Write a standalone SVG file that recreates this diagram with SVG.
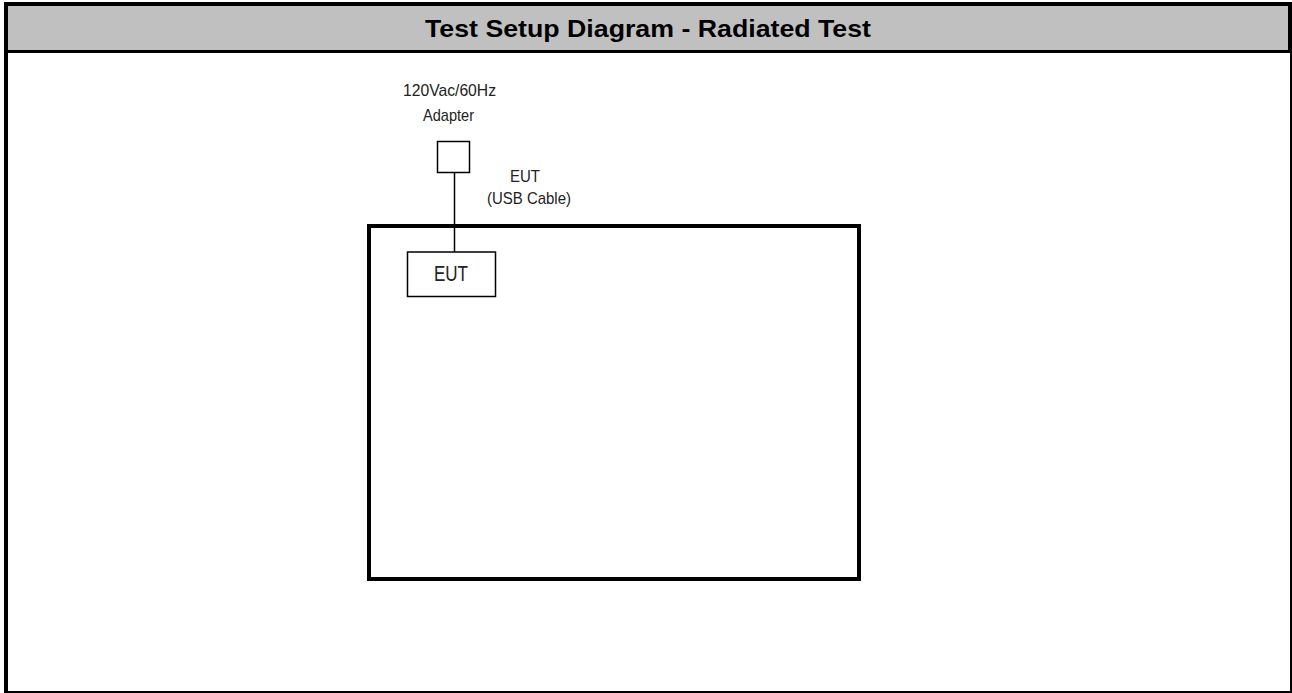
<svg xmlns="http://www.w3.org/2000/svg" width="1292" height="693" viewBox="0 0 1292 693">
<style>
.lbl{font-family:"Liberation Sans",Arial,sans-serif;font-size:17px;fill:#222}
.title{font-family:"Liberation Sans",Arial,sans-serif;font-size:24px;font-weight:bold;fill:#000}
.thin{fill:#fff;stroke:#000;stroke-width:1.5}
</style>
<rect x="0" y="0" width="1292" height="693" fill="#fff"/>
<g id="frame">
<rect x="8" y="6" width="1280" height="44" fill="#C0C0C0"/>
<rect x="4" y="2" width="1288" height="4" fill="#000"/>
<rect x="4" y="50" width="1288" height="3" fill="#000"/>
<rect x="4" y="2" width="4" height="691" fill="#000"/>
<rect x="1288" y="2" width="4" height="51" fill="#000"/>
<rect x="1290" y="53" width="2" height="640" fill="#000"/>
<rect x="4" y="691" width="1288" height="2" fill="#000"/>
<text class="title" x="425" y="37" textLength="446" lengthAdjust="spacingAndGlyphs">Test Setup Diagram - Radiated Test</text>
</g>
<g id="table">
<rect x="369" y="226" width="490" height="353" fill="none" stroke="#000" stroke-width="4"/>
</g>
<g id="connectors">
<line x1="454.5" y1="172" x2="454.5" y2="252" stroke="#000" stroke-width="1.5"/>
</g>
<g id="adapter">
<rect class="thin" x="437.5" y="141.5" width="32" height="31"/>
<text class="lbl" x="403" y="96" textLength="93" lengthAdjust="spacingAndGlyphs">120Vac/60Hz</text>
<text class="lbl" x="423" y="121" textLength="51" lengthAdjust="spacingAndGlyphs">Adapter</text>
</g>
<g id="cable-label">
<text class="lbl" x="510" y="182" textLength="30" lengthAdjust="spacingAndGlyphs">EUT</text>
<text class="lbl" x="487" y="204" textLength="84" lengthAdjust="spacingAndGlyphs">(USB Cable)</text>
</g>
<g id="eut">
<rect class="thin" x="407.5" y="252" width="88" height="44.5"/>
<text class="lbl" x="434" y="281" style="font-size:22px" textLength="34" lengthAdjust="spacingAndGlyphs">EUT</text>
</g>
</svg>
